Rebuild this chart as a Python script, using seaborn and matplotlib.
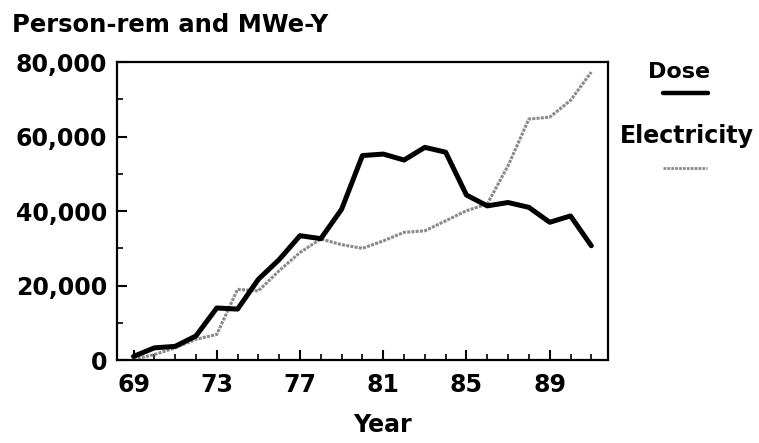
import numpy as np
import pandas as pd
import matplotlib
matplotlib.use("Agg")
import matplotlib.pyplot as plt
import seaborn as sns
from matplotlib.lines import Line2D
from matplotlib.ticker import FuncFormatter, MultipleLocator

years = list(range(69, 92))
dose = [1000, 3300, 3700, 6500, 14000, 13700, 21700, 27000, 33400, 32600, 40500,
        54900, 55300, 53700, 57100, 55800, 44300, 41400, 42300, 41000, 37000, 38700, 30700]
electricity = [200, 1500, 3300, 5600, 6900, 19000, 18600, 24000, 28900, 32500, 31000,
               30000, 32000, 34300, 34700, 37400, 40100, 41900, 52200, 64700, 65200, 69700, 77300]

df = pd.DataFrame({"Year": years, "Dose": dose, "Electricity": electricity})

sns.set_style("ticks", {"axes.edgecolor": "black", "xtick.color": "black",
                        "ytick.color": "black", "text.color": "black"})
plt.rcParams["font.family"] = ["DejaVu Sans"]
plt.rcParams["font.weight"] = "bold"

fig = plt.figure(figsize=(7.59, 4.43), dpi=100)
ax = fig.add_axes([0.154, 0.187, 0.647, 0.673])

sns.lineplot(data=df, x="Year", y="Electricity", ax=ax, color="#8a8a8a", linewidth=2.2,
             linestyle=(0, (1, 0.4)))
sns.lineplot(data=df, x="Year", y="Dose", ax=ax, color="black", linewidth=3.6)

ax.set_xlim(68.2, 91.8)
ax.set_ylim(0, 80000)
ax.set_xticks([69, 73, 77, 81, 85, 89])
ax.xaxis.set_minor_locator(MultipleLocator(1))
ax.set_yticks([0, 20000, 40000, 60000, 80000])
ax.yaxis.set_minor_locator(MultipleLocator(10000))
ax.yaxis.set_major_formatter(FuncFormatter(lambda v, p: f"{int(v):,}"))
ax.tick_params(axis="both", which="major", direction="in", length=7, width=1.5,
               labelsize=17, pad=7, colors="black")
ax.tick_params(axis="x", which="major", pad=9)
ax.tick_params(axis="both", which="minor", direction="in", length=4, width=1.2)
for lab in ax.get_xticklabels() + ax.get_yticklabels():
    lab.set_fontweight("bold")
for s in ax.spines.values():
    s.set_linewidth(1.6)

ax.set_xlabel("Year", fontsize=17, fontweight="bold", color="black")
ax.xaxis.set_label_coords(0.54, -0.178)
ax.set_ylabel("")

fig.text(0.016, 0.944, "Person-rem and MWe-Y", fontsize=17.5, fontweight="bold",
         ha="left", va="center", color="black")

# legend
fig.text(0.895, 0.837, "Dose", fontsize=16, fontweight="bold", ha="center", va="center",
         color="black")
fig.add_artist(Line2D([0.874, 0.933], [0.79, 0.79], color="black", linewidth=3.2))
fig.text(0.905, 0.693, "Electricity", fontsize=17, fontweight="bold", ha="center",
         va="center", color="black")
fig.add_artist(Line2D([0.874, 0.932], [0.621, 0.621], color="#8a8a8a", linewidth=2,
                      linestyle=(0, (1, 0.4))))

plt.savefig("out.png", dpi=100)
